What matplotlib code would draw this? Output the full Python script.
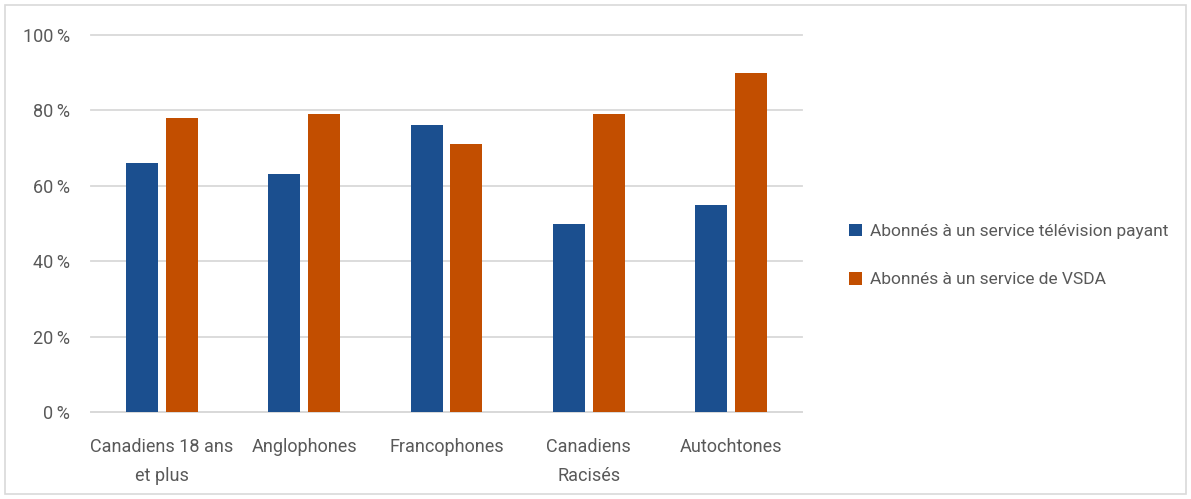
import numpy as np
import matplotlib
matplotlib.use("Agg")
import matplotlib.pyplot as plt
from matplotlib.patches import Rectangle
from matplotlib.ticker import FuncFormatter

plt.rcParams['font.family'] = ['Roboto', 'DejaVu Sans']

categories = ["Canadiens 18 ans\net plus", "Anglophones", "Francophones", "Canadiens\nRacisés", "Autochtones"]
tv_payant = [66, 63, 76, 50, 55]
vsda = [78, 79, 71, 79, 90]
series_names = ["Abonnés à un service télévision payant", "Abonnés à un service de VSDA"]

blue = "#1B4F8F"
orange = "#C24E00"
txt = "#595959"

fig = plt.figure(figsize=(11.91, 4.99), dpi=100)
ax = fig.add_axes([0.0764, 0.1743, 0.597, 0.7556])

x = np.arange(len(categories))
w = 0.225
ax.bar(x - 0.14, tv_payant, w, color=blue, label=series_names[0], zorder=3)
ax.bar(x + 0.14, vsda, w, color=orange, label=series_names[1], zorder=3)

ax.set_xlim(-0.5, len(categories) - 0.5)
ax.set_ylim(0, 100)
ax.set_yticks(range(0, 101, 20))
ax.yaxis.set_major_formatter(FuncFormatter(lambda v, p: f"{int(v)}\u202f%"))
ax.set_xticks(x)
ax.set_xticklabels(categories, linespacing=1.75)
ax.grid(axis='y', color="#D9D9D9", linewidth=1.3, zorder=0)
for gl in ax.get_ygridlines():
    gl.set_clip_on(False)
for s in ['top', 'right', 'left']:
    ax.spines[s].set_visible(False)
ax.spines['bottom'].set_color("#D9D9D9")
ax.spines['bottom'].set_linewidth(1.3)
ax.tick_params(axis='both', length=0, labelsize=13, colors=txt)
ax.tick_params(axis='x', pad=19)
ax.tick_params(axis='y', pad=15)
for lab in ax.get_xticklabels() + ax.get_yticklabels():
    lab.set_color(txt)

leg = fig.legend(loc='center left', bbox_to_anchor=(0.700, 0.488), frameon=False,
                 fontsize=12.5, labelspacing=1.9, handlelength=0.75, handleheight=0.75,
                 handletextpad=0.45)
for t in leg.get_texts():
    t.set_color(txt)

fig.patches.append(Rectangle((0.004, 0.01), 0.992, 0.98, transform=fig.transFigure,
                             fill=False, edgecolor="#D9D9D9", linewidth=1.2))

fig.savefig("out.png", dpi=100)
